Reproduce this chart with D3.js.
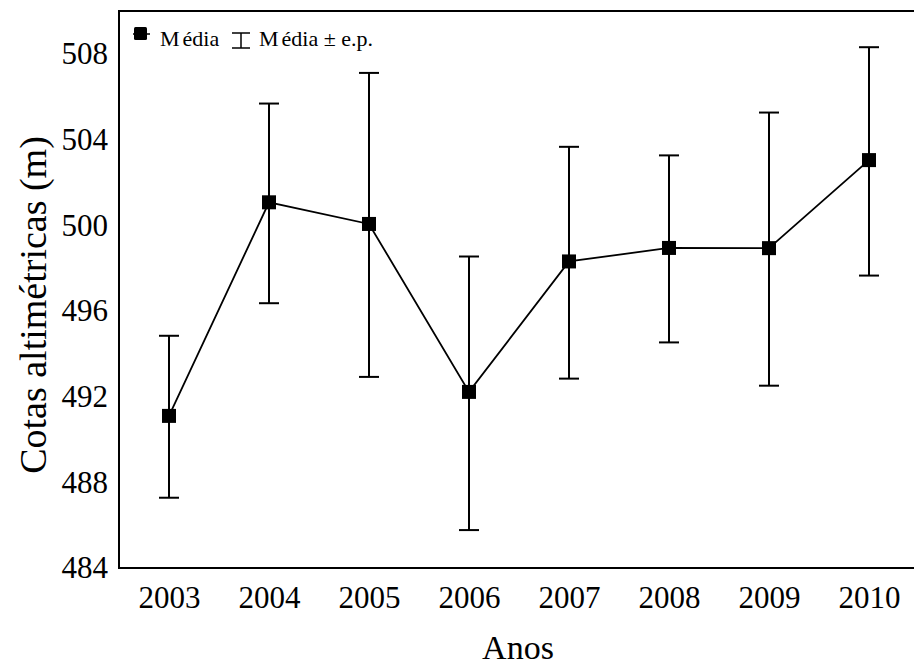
<!DOCTYPE html>
<html>
<head>
<meta charset="utf-8">
<script src="https://cdn.jsdelivr.net/npm/d3@7"></script>
<style>
  html, body { margin: 0; padding: 0; background: #fff; }
  svg { display: block; }
  svg text { font-family: "Liberation Serif", "Times New Roman", serif !important; fill: #000; }
</style>
</head>
<body>
<svg id="chart" width="914" height="666"></svg>
<script>
// Annual mean elevation with standard-error bars
const years = ["2003", "2004", "2005", "2006", "2007", "2008", "2009", "2010"];
const meanValues = [491.10, 501.07, 500.06, 492.22, 498.31, 498.94, 498.93, 503.04];
const upperValues = [494.84, 505.68, 507.11, 498.54, 503.66, 503.26, 505.26, 508.31];
const lowerValues = [487.28, 496.36, 492.92, 485.77, 492.84, 494.53, 492.51, 497.65];
const yTicks = [484, 488, 492, 496, 500, 504, 508];

const svg = d3.select("#chart");
const plotLeft = 119, plotRight = 919, plotTop = 11, plotBottom = 568;

const x = d3.scalePoint().domain(years).range([plotLeft, plotRight]).padding(0.5);
const y = d3.scaleLinear().domain([484, 510]).range([plotBottom, plotTop]);

const data = years.map((yr, i) => ({ yr, m: meanValues[i], hi: upperValues[i], lo: lowerValues[i] }));

// axes (no tick marks, labels only)
const xAxis = svg.append("g").attr("transform", `translate(0,${plotBottom})`)
  .call(d3.axisBottom(x).tickSize(0).tickPadding(18));
xAxis.select(".domain").remove();
xAxis.attr("font-size", 31);

const yAxis = svg.append("g").attr("transform", `translate(${plotLeft},0)`)
  .call(d3.axisLeft(y).tickValues(yTicks).tickSize(0).tickPadding(11).tickFormat(d3.format("d")));
yAxis.select(".domain").remove();
yAxis.attr("font-size", 31);

// frame: left, top and bottom lines
svg.append("path")
  .attr("d", `M914,${plotTop}H${plotLeft}V${plotBottom}H914`)
  .attr("fill", "none").attr("stroke", "#000").attr("stroke-width", 2);

// error bars
const capHalf = 10;
const eb = svg.append("g").attr("stroke", "#000").attr("stroke-width", 2).attr("fill", "none");
data.forEach(d => {
  const cx = x(d.yr);
  eb.append("line").attr("x1", cx).attr("x2", cx).attr("y1", y(d.hi)).attr("y2", y(d.lo));
  eb.append("line").attr("x1", cx - capHalf).attr("x2", cx + capHalf).attr("y1", y(d.hi)).attr("y2", y(d.hi));
  eb.append("line").attr("x1", cx - capHalf).attr("x2", cx + capHalf).attr("y1", y(d.lo)).attr("y2", y(d.lo));
});

// mean line
svg.append("path").datum(data)
  .attr("d", d3.line().x(d => x(d.yr)).y(d => y(d.m)))
  .attr("fill", "none").attr("stroke", "#000").attr("stroke-width", 1.8);

// mean markers
const ms = 14;
svg.append("g").selectAll("rect").data(data).join("rect")
  .attr("x", d => x(d.yr) - ms / 2).attr("y", d => y(d.m) - ms / 2)
  .attr("width", ms).attr("height", ms).attr("fill", "#000");

// axis titles
svg.append("text").attr("x", 518).attr("y", 659)
  .attr("text-anchor", "middle").attr("font-size", 34).text("Anos");
svg.append("text")
  .attr("transform", `translate(46,305) rotate(-90)`)
  .attr("text-anchor", "middle").attr("font-size", 38).text("Cotas altimétricas (m)");

// legend
const lg = svg.append("g");
lg.append("line").attr("x1", 133).attr("x2", 150).attr("y1", 34).attr("y2", 34)
  .attr("stroke", "#000").attr("stroke-width", 1.5);
lg.append("rect").attr("x", 134).attr("y", 27).attr("width", 13).attr("height", 13).attr("rx", 1.5).attr("fill", "#000");
const t1 = lg.append("text").attr("x", 160).attr("y", 46).attr("font-size", 22);
t1.append("tspan").text("M");
t1.append("tspan").attr("dx", 3).text("édia");
lg.append("line").attr("x1", 241).attr("x2", 241).attr("y1", 33).attr("y2", 48).attr("stroke", "#000").attr("stroke-width", 1.5);
lg.append("line").attr("x1", 232).attr("x2", 250).attr("y1", 33).attr("y2", 33).attr("stroke", "#000").attr("stroke-width", 1.5);
lg.append("line").attr("x1", 232).attr("x2", 250).attr("y1", 48).attr("y2", 48).attr("stroke", "#000").attr("stroke-width", 1.5);
const t2 = lg.append("text").attr("x", 259).attr("y", 46).attr("font-size", 22);
t2.append("tspan").text("M");
t2.append("tspan").attr("dx", 3).text("édia ± e.p.");
</script>
</body>
</html>
